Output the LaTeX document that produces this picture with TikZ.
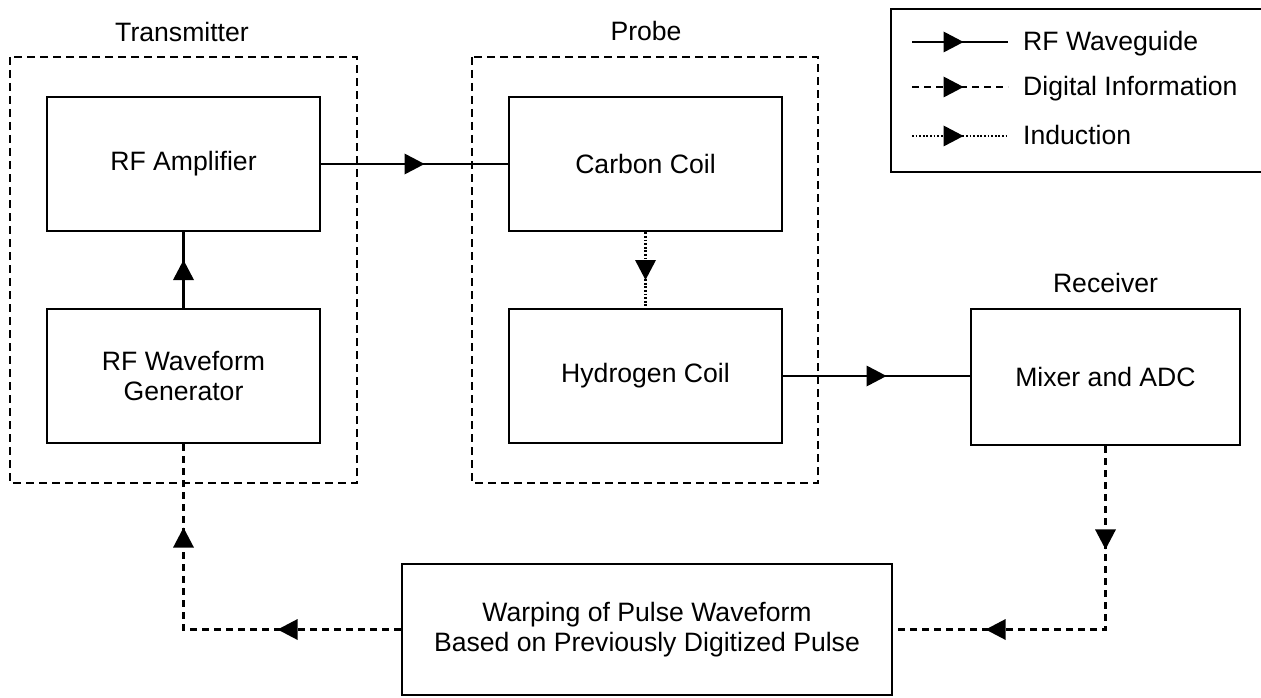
\documentclass[tikz,border=0pt]{standalone}
\usepackage{fontspec}
\setmainfont{Liberation Sans}
\usetikzlibrary{decorations.markings}
\tikzset{
  blk/.style={draw, line width=2.7pt, minimum width=273pt, minimum height=134pt, inner sep=0pt, align=center},
  grp/.style={draw, line width=2.3pt, dash pattern=on 8pt off 5pt},
  rf/.style={line width=2.1pt},
  dig/.style={line width=2.1pt, dash pattern=on 7pt off 5pt},
  ind/.style={line width=2.1pt, dash pattern=on 1.8pt off 1.8pt},
  amark/.style={postaction={decorate,decoration={markings,mark=at position #1 with {\fill[solid] (-10,-10.5) -- (10,0) -- (-10,10.5) -- cycle;}}}},
  lbl/.style={inner sep=0pt}
}
\begin{document}
\begin{tikzpicture}[x=1pt,y=-1pt, font=\fontsize{26.6}{30}\selectfont]
\useasboundingbox (0,0) rectangle (1261,698);
% group frames
\draw[grp] (10,57) rectangle (357,483);
\draw[grp] (472,57) rectangle (818,483);
\node[lbl, anchor=base] (tlab) at (182,42) {Transmitter};
\node[lbl, anchor=base] (plab) at (646,41) {Probe};
\node[lbl, anchor=base] (rlab) at (1105.5,292) {Receiver};
% blocks
\node[blk] (amp) at (183.5,164) {RF Amplifier};
\node[blk] (gen) at (183.5,376) {RF Waveform\\Generator};
\node[blk] (carbon) at (645.5,164) {Carbon Coil};
\node[blk] (hydro) at (645.5,376) {Hydrogen Coil};
\node[blk, minimum width=269pt, minimum height=136pt] (mix) at (1105.5,377) {Mixer and ADC};
\node[blk, minimum width=490pt, minimum height=131pt] (warp) at (647,629.5) {Warping of Pulse Waveform\\Based on Previously Digitized Pulse};
% connectors
\draw[rf, amark=0.5] (amp.east) -- (amp.east -| carbon.west);
\draw[rf, amark=0.5] (gen.north) -- (amp.south);
\draw[ind, amark=0.5] (carbon.south) -- (hydro.north);
\draw[rf, amark=0.5] (hydro.east) -- (hydro.east -| mix.west);
\draw[dig, amark=93pt, amark=293pt] (mix.south) |- (warp.east);
\draw[dig, amark=113pt, amark=309pt] (warp.west) -| (gen.south);
% legend
\node[draw, line width=2.4pt, inner sep=0pt, anchor=north west, minimum width=395pt, minimum height=163pt] (legend) at (890,8) {};
\coordinate (l1a) at (912,42); \coordinate (l1b) at (1008,42);
\coordinate (l2a) at (912,87); \coordinate (l2b) at (1008,87);
\coordinate (l3a) at (912,136); \coordinate (l3b) at (1008,136);
\draw[rf, amark=41.5pt] (l1a) -- (l1b);
\draw[dig, amark=41.5pt] (l2a) -- (l2b);
\draw[ind, amark=41.5pt] (l3a) -- (l3b);
\node[lbl, anchor=base west] (t1) at (1023,51) {RF Waveguide};
\node[lbl, anchor=base west] (t2) at (1023,96) {Digital Information};
\node[lbl, anchor=base west] (t3) at (1023,145) {Induction};
\end{tikzpicture}
\end{document}
